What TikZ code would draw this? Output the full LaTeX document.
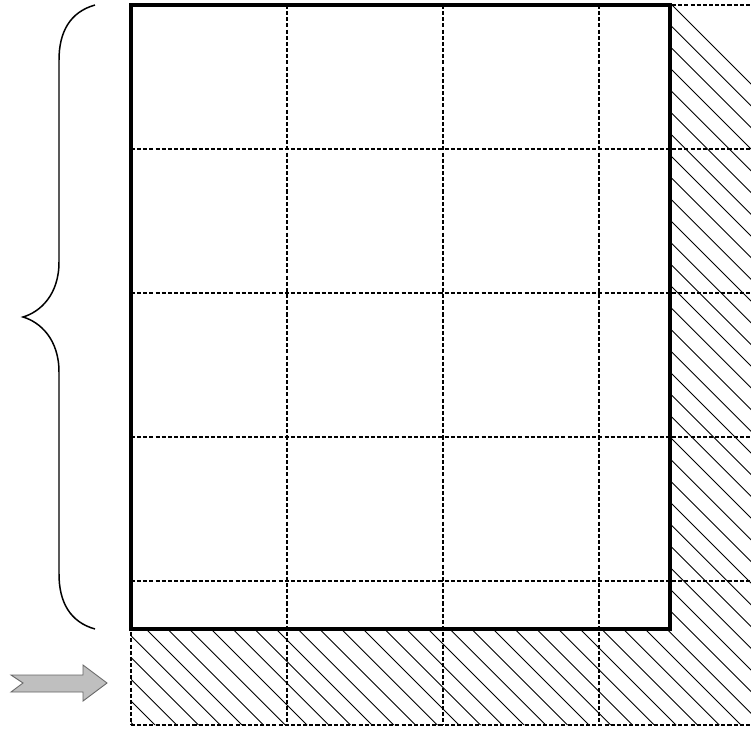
\documentclass[tikz,border=0pt]{standalone}
\usepackage{tikz}
\begin{document}
\begin{tikzpicture}[x=0.02cm, y=-0.02cm,
	grille/.style={dash pattern=on 2.3pt off 1.2pt, line width=0.85pt},
	hachure/.style={line width=0.5pt},
	cadre/.style={line width=2.3pt},
	accolade/.style={line width=0.85pt},
	fleche/.style={fill=black!25, draw=black!60, line width=0.5pt}]
	\useasboundingbox (0,0) rectangle (751,728);
	%Hachures de la zone en dehors du bloc
	\begin{scope}
		\clip (670,5) rectangle (760,725) (131,629) rectangle (760,725);
		\foreach \k in {0,...,62}
			\draw[hachure] ({667-21.7*\k},0) -- ({667-21.7*\k+800},800);
	\end{scope}
	%Grille en pointillés
	\foreach \y in {5,149,293,437,581,725}
		\draw[grille] (131,\y) -- (751,\y);
	\foreach \x in {131,287,443,599}
		\draw[grille] (\x,5) -- (\x,725);
	%Bloc
	\draw[cadre] (131,5) rectangle (670,629);
	%Accolade
	\draw[accolade] (95,5) .. controls (70,12) and (59,32) .. (59,60)
		-- (59,262) .. controls (59,295) and (40,312) .. (23,317)
		.. controls (40,322) and (59,339) .. (59,372)
		-- (59,574) .. controls (59,602) and (70,622) .. (95,629);
	%Flèche
	\draw[fleche] (11,675) -- (83,675) -- (83,665) -- (107,683) -- (83,701)
		-- (83,692) -- (11,692) -- (23,683) -- cycle;
\end{tikzpicture}
\end{document}
